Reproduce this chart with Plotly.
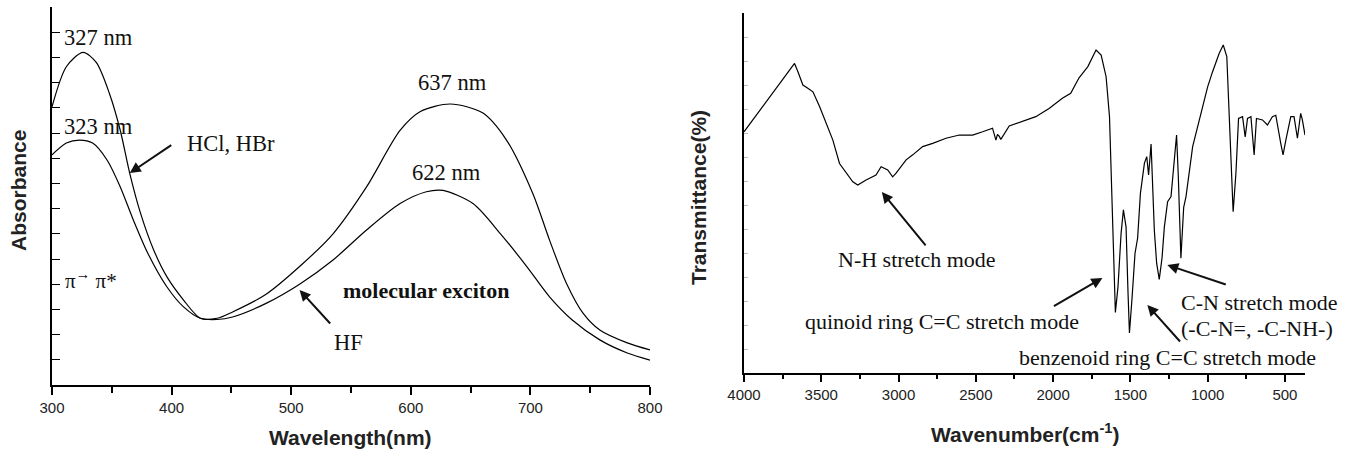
import plotly.graph_objects as go

# ---------------- UV-vis data (left panel) ----------------
wl_hcl = [300, 312, 326, 337, 348, 357, 365, 374, 385, 396, 410, 424, 438, 451, 479, 507,
          535, 563, 591, 608, 633, 660, 680, 702, 716, 730, 744, 758, 781, 800]
abs_hcl = [11.04, 12.63, 13.2, 12.8, 11.57, 10.12, 8.4, 6.82, 5.36, 4.3, 3.37, 2.65, 2.65, 2.9,
           3.6, 4.7, 6.0, 7.86, 10.1, 10.85, 11.15, 10.8, 9.72, 7.6, 5.75, 4.05, 2.85, 2.18, 1.67, 1.39]

wl_hf = [300, 312, 323, 334, 346, 357, 368, 380, 396, 410, 424, 438, 451, 479, 507, 535, 563,
         591, 613, 627, 652, 675, 697, 716, 735, 758, 781, 800]
abs_hf = [9.13, 9.6, 9.72, 9.6, 8.93, 7.87, 6.55, 5.24, 3.9, 3.1, 2.65, 2.6, 2.7, 3.24, 4.0, 4.96,
          6.15, 7.2, 7.67, 7.72, 7.2, 6.0, 4.7, 3.5, 2.58, 1.79, 1.27, 0.99]

uv_ticks = [300, 400, 500, 600, 700, 800]

# ---------------- FTIR data (right panel) ----------------
wn = [4000, 3920, 3834, 3770, 3705, 3673, 3651, 3619, 3587, 3554, 3511, 3468, 3425, 3382, 3339,
      3296, 3264, 3210, 3146, 3113, 3070, 3038, 3016, 2951, 2908, 2844, 2779, 2693, 2607, 2521,
      2456, 2392, 2370, 2360, 2349, 2338, 2284, 2198, 2112, 2026, 1940, 1886, 1832, 1775, 1722,
      1689, 1657, 1635, 1618, 1603, 1597, 1580, 1560, 1545, 1528, 1515, 1506, 1490, 1470, 1453,
      1435, 1409, 1394, 1382, 1366, 1345, 1330, 1313, 1295, 1280, 1259, 1237, 1216, 1201, 1190,
      1173, 1155, 1140, 1097, 1054, 1000, 968, 925, 899, 876, 860, 845, 835, 817, 800, 774, 757,
      742, 720, 699, 684, 645, 613, 581, 559, 527, 512, 494, 462, 441, 419, 398, 387, 370]
trans = [67.0, 71.7, 76.8, 80.5, 84.2, 86.0, 83.7, 80.0, 79.1, 78.1, 74.0, 69.4, 64.7, 58.2, 55.5,
         53.1, 52.2, 53.6, 55.0, 57.3, 56.4, 54.5, 55.5, 59.2, 60.6, 62.9, 63.8, 65.2, 66.1, 66.1,
         67.0, 68.0, 64.7, 66.3, 65.8, 64.9, 68.6, 69.8, 71.2, 73.5, 76.3, 77.7, 82.0, 85.1, 89.7,
         88.3, 82.3, 71.2, 48.1, 24.9, 16.8, 24.0, 38.8, 45.3, 40.6, 22.0, 11.1, 20.3, 33.2, 37.5,
         49.9, 58.3, 60.1, 55.0, 63.6, 39.7, 30.5, 26.0, 32.0, 40.6, 47.6, 49.0, 60.1, 66.1, 55.0,
         31.9, 46.0, 49.0, 62.9, 70.3, 79.5, 83.7, 88.8, 91.1, 87.9, 71.2, 55.5, 44.8, 55.5, 70.7,
         71.2, 65.6, 70.7, 71.2, 60.6, 70.7, 70.3, 68.9, 71.2, 71.6, 63.8, 60.6, 64.7, 71.2, 71.2,
         65.2, 72.1, 70.3, 66.1]

ir_ticks = [4000, 3500, 3000, 2500, 2000, 1500, 1000, 500]

SERIF = "Liberation Serif"
SANS = "Liberation Sans"
W, H = 1347, 449

fig = go.Figure()
fig.add_trace(go.Scatter(x=wl_hcl, y=abs_hcl, mode="lines",
                         line=dict(color="black", width=1.2, shape="spline", smoothing=0.8),
                         xaxis="x", yaxis="y", name="HCl, HBr"))
fig.add_trace(go.Scatter(x=wl_hf, y=abs_hf, mode="lines",
                         line=dict(color="black", width=1.2, shape="spline", smoothing=0.8),
                         xaxis="x", yaxis="y", name="HF"))
fig.add_trace(go.Scatter(x=wn, y=trans, mode="lines", line=dict(color="black", width=1.2),
                         xaxis="x2", yaxis="y2", name="FTIR"))

axis_common = dict(showline=True, linecolor="black", linewidth=1.5, showgrid=False, zeroline=False,
                   mirror=False, automargin=False, tickcolor="black",
                   tickfont=dict(family=SANS, size=15, color="#222"))

fig.update_layout(
    template="none",
    width=W, height=H,
    margin=dict(l=0, r=0, t=0, b=0, autoexpand=False),
    paper_bgcolor="white", plot_bgcolor="white",
    showlegend=False,
    xaxis=dict(domain=[52/W, 650/W], range=[300, 800], tickvals=uv_ticks,
               ticks="outside", ticklen=8, tickwidth=1.5,
               minor=dict(dtick=50, ticks="outside", ticklen=6, tickwidth=1.5, tickcolor="black"),
               anchor="y", **axis_common),
    yaxis=dict(domain=[(H-385)/H, (H-7)/H], range=[0, 15], dtick=1, tick0=0, ticks="inside", ticklen=8,
               tickwidth=1.2, showticklabels=False, anchor="x", **axis_common),
    xaxis2=dict(domain=[744/W, 1305/W], range=[4000, 370], tickvals=ir_ticks,
                ticks="outside", ticklen=7, tickwidth=1.5,
                minor=dict(dtick=250, tick0=0, ticks="outside", ticklen=4, tickwidth=1.5, tickcolor="black"),
                anchor="y2", **axis_common),
    yaxis2=dict(domain=[(H-373)/H, (H-13)/H], range=[0, 100], dtick=100/15, tick0=0, ticks="inside",
                ticklen=4, tickwidth=1, tickcolor="#bbbbbb", showticklabels=False, anchor="x2",
                showline=True, linecolor="black", linewidth=1.5, showgrid=False, zeroline=False,
                automargin=False),
)

ann = []
def txt(x, y, s, xref, yref, size=22.5, bold=False, xanchor="center"):
    ann.append(dict(x=x, y=y, xref=xref, yref=yref, text=f"<b>{s}</b>" if bold else s, showarrow=False,
                    xanchor=xanchor, yanchor="middle", font=dict(family=SERIF, size=size, color="#111")))

def arrow(x, y, ax, ay, xref, yref):
    ann.append(dict(x=x, y=y, xref=xref, yref=yref, ax=ax, ay=ay, text="", showarrow=True,
                    arrowhead=2, arrowsize=1.1, arrowwidth=2, arrowcolor="#111"))

# left panel labels
txt(338.5, 13.77, "327 nm", "x", "y")
txt(339, 10.24, "323 nm", "x", "y")
txt(449.7, 9.6, "HCl, HBr", "x", "y")
txt(333, 4.17, "π<sup>→</sup> π*", "x", "y", size=21)
txt(612.7, 3.77, "molecular exciton", "x", "y", size=22, bold=True)
txt(547.5, 1.67, "HF", "x", "y")
txt(635, 12.02, "637 nm", "x", "y")
txt(630, 8.45, "622 nm", "x", "y")
arrow(365, 8.41, 43, -29, "x", "y")
arrow(507, 3.77, 32, 35, "x", "y")

# right panel labels
txt(2882, 31.4, "N-H stretch mode", "x2", "y2", size=22)
txt(2721, 14.2, "quinoid ring C=C stretch mode", "x2", "y2", size=22)
txt(1261, 4.4, "benzenoid ring C=C stretch mode", "x2", "y2", size=22)
txt(1183, 19.7, "C-N stretch mode", "x2", "y2", size=22, xanchor="left")
txt(1183, 12.5, "(-C-N=, -C-NH-)", "x2", "y2", size=22, xanchor="left")
arrow(3108, 50.3, 45, 55, "x2", "y2")
arrow(1681, 26.4, -50, 29, "x2", "y2")
arrow(1390, 18.9, 34, 38, "x2", "y2")
arrow(1261, 30.0, 60, 20, "x2", "y2")

# axis titles
def title(x, y, s, angle=0):
    ann.append(dict(x=x, y=y, xref="paper", yref="paper", text=f"<b>{s}</b>", showarrow=False,
                    textangle=angle, xanchor="center", yanchor="middle",
                    font=dict(family=SANS, size=21, color="#222")))

title(350/W, (H-437)/H, "Wavelength(nm)")
title(1025/W, (H-433)/H, "Wavenumber(cm<sup>-1</sup>)")
title(18/W, (H-191)/H, "Absorbance", -90)
title(698/W, (H-198)/H, "Transmittance(%)", -90)

fig.update_layout(annotations=ann)
fig.write_html("out.html", config={"displayModeBar": False},
               post_script="document.body.style.margin='0px';")
